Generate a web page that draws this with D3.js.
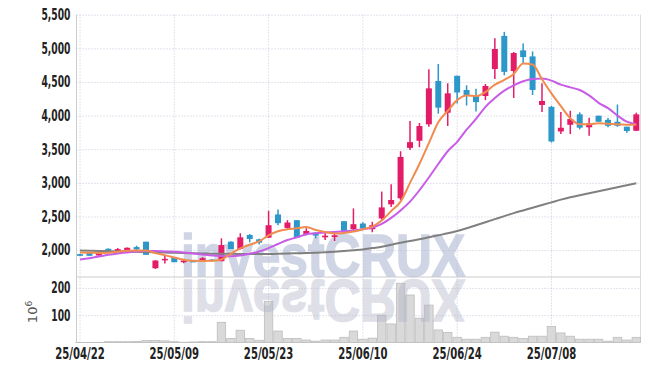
<!DOCTYPE html>
<html>
<head>
<meta charset="utf-8">
<script src="https://cdnjs.cloudflare.com/ajax/libs/d3/7.8.5/d3.min.js"></script>
<style>
body { margin: 0; background: #fff; }
.tick text { font-family: 'DejaVu Sans', sans-serif; font-stretch: condensed; font-weight: bold; fill: #222; }
</style>
</head>
<body>
<div id="chart"></div>
<script>
// trading days (yy/mm/dd)
var dates = ["25/04/22","25/04/23","25/04/24","25/04/25","25/04/28","25/04/29","25/04/30","25/05/02","25/05/07","25/05/08",
	"25/05/09","25/05/12","25/05/13","25/05/14","25/05/15","25/05/16","25/05/19","25/05/20","25/05/21","25/05/22",
	"25/05/23","25/05/26","25/05/27","25/05/28","25/05/29","25/05/30","25/06/02","25/06/04","25/06/05","25/06/09",
	"25/06/10","25/06/11","25/06/12","25/06/13","25/06/16","25/06/17","25/06/18","25/06/19","25/06/20","25/06/23",
	"25/06/24","25/06/25","25/06/26","25/06/27","25/06/30","25/07/01","25/07/02","25/07/03","25/07/04","25/07/07",
	"25/07/08","25/07/09","25/07/10","25/07/11","25/07/14","25/07/15","25/07/16","25/07/17","25/07/18","25/07/21"];

var opens = [1940,1955,1920,2020,1975,1990,2045,2125,1730,1850,
	1885,1820,1840,1835,1860,1835,2125,2015,2225,2160,
	2185,2530,2330,2445,2240,2260,2190,2195,2430,2310,
	2395,2310,2470,2680,2770,3520,3625,3870,4515,4043,
	4592,4380,4300,4291,4692,5185,4662,4970,4880,4158,
	4130,3764,3863,4019,3826,3998,3937,3908,3835,3774];
var highs = [1945,1960,1960,2025,2030,2040,2065,2125,1850,1925,
	1885,1850,1845,1895,1865,2175,2130,2250,2240,2170,
	2585,2605,2445,2445,2325,2265,2260,2250,2430,2620,
	2415,2420,2870,2980,3470,3920,3890,4690,4767,4480,
	4592,4450,4400,4470,5148,5245,4945,5073,4954,4480,
	4145,4054,4071,4049,3968,3998,3963,4165,3835,4043];
var lows = [1910,1910,1915,1970,1970,1985,2005,1930,1720,1800,
	1820,1805,1825,1830,1830,1835,2015,2010,2115,2085,
	2180,2370,2300,2185,2220,2175,2150,2135,2250,2300,
	2305,2265,2435,2640,2745,3490,3530,3835,4028,3845,
	4180,4150,4060,4230,4543,4600,4262,4775,4307,4054,
	3600,3726,3725,3795,3700,3908,3826,3833,3745,3774];
var closes = [1915,1915,1955,1975,2015,2035,2010,1930,1845,1870,
	1820,1845,1830,1880,1835,2075,2015,2190,2165,2110,
	2370,2400,2410,2185,2285,2215,2215,2220,2265,2385,
	2320,2370,2635,2745,3385,3605,3845,4405,4118,4331,
	4344,4300,4200,4440,4990,4650,4930,4870,4381,4217,
	3615,3819,3948,3820,3885,3908,3848,3848,3770,4018];

// volume, millions of shares
var volumes = [0.5,0.5,0.5,3,3,3,4,7,7,6,
	3,1,2,3,3,74,15,45,15,8,
	151,42,15,15,9,5,9,9,19,42,
	12,16,100,68,217,174,89,137,46,37,
	19,12,12,19,38,23,19,15,23,23,
	59,35,23,12,12,12,5,19,9,19];

// moving averages
var ma5 = [1965,1962,1958,1962,1975,1990,1995,1995,1955,1925,
	1890,1855,1840,1838,1840,1860,1945,2025,2080,2130,
	2220,2280,2310,2325,2345,2300,2270,2245,2255,2275,
	2310,2350,2440,2580,2720,3000,3280,3590,3900,4070,
	4230,4300,4290,4350,4460,4530,4620,4775,4760,4540,
	4330,4140,3960,3870,3870,3885,3880,3870,3865,3863];
var ma10 = [1860,1880,1905,1930,1950,1965,1978,1985,1985,1980,
	1975,1965,1950,1935,1920,1912,1910,1920,1945,1980,
	2030,2090,2150,2190,2235,2250,2260,2270,2280,2290,
	2310,2335,2390,2480,2590,2720,2890,3080,3280,3470,
	3610,3790,3950,4130,4260,4370,4450,4510,4545,4550,
	4520,4460,4420,4380,4300,4190,4110,4000,3910,3870];
var ma60 = [1995,1990,1987,1984,1981,1978,1975,1971,1967,1963,
	1959,1956,1953,1950,1947,1945,1944,1943,1942,1942,
	1943,1945,1948,1952,1956,1961,1967,1975,1985,1997,
	2010,2030,2050,2080,2110,2135,2160,2190,2220,2250,
	2285,2325,2370,2415,2460,2505,2550,2590,2630,2670,
	2710,2750,2785,2815,2845,2875,2905,2935,2965,2995];

var priceTicks = [2000,2500,3000,3500,4000,4500,5000,5500];
var volumeTicks = [100,200];
var dateTicks = ["25/04/22","25/05/09","25/05/23","25/06/10","25/06/24","25/07/08"];

var upColor = '#e31c68',
	downColor = '#2e97c9';

var width = 650,
	height = 371;

var left = 76.5, right = 640.5,
	priceTop = 14.7, priceBottom = 277,
	volBottom = 342.5;

var svg = d3.select("#chart")
	.append("svg")
	.attr("width", width)
	.attr("height", height);

var x = d3.scaleBand()
	.domain(dates)
	.range([75.3, 641])
	.paddingInner(0);
var bw = x.bandwidth();
function cx(d){ return x(d) + bw / 2; }

var y = d3.scaleLinear().domain([1600, 5500]).range([priceBottom, priceTop]);
var yv = d3.scaleLinear().domain([0, 240]).range([volBottom, priceBottom]);

// grid + axes
var gridColor = "#c3c8da";

var yAxis = svg.append("g")
	.attr("transform", "translate(" + left + ",0)")
	.call(d3.axisLeft(y).tickValues(priceTicks).tickFormat(d3.format(",")).tickSize(-(right - left)).tickPadding(6));
var vAxis = svg.append("g")
	.attr("transform", "translate(" + left + ",0)")
	.call(d3.axisLeft(yv).tickValues(volumeTicks).tickSize(-(right - left)).tickPadding(6));
var xAxis = svg.append("g")
	.attr("transform", "translate(0," + volBottom + ")")
	.call(d3.axisBottom(x).tickValues(dateTicks).tickSize(-(volBottom - priceTop)).tickPadding(5));

[yAxis, vAxis, xAxis].forEach(function(a){
	a.select(".domain").remove();
	a.selectAll(".tick line")
		.attr("stroke", gridColor)
		.attr("stroke-dasharray", "1,2");
});

// squeeze labels to the narrow face used in the original
function narrow(sel, size, factor){
	sel.selectAll(".tick text")
		.style("font-size", size + "px")
		.each(function(){
			var w = this.getComputedTextLength();
			d3.select(this).attr("textLength", w * factor).attr("lengthAdjust", "spacingAndGlyphs");
		});
}
narrow(yAxis, 15, 0.68);
narrow(vAxis, 15, 0.68);
narrow(xAxis, 16, 0.7);

// frame
var frameColor = "#cccccc";
svg.append("line").attr("x1", left).attr("x2", left).attr("y1", priceTop).attr("y2", volBottom).attr("stroke", frameColor);
svg.append("line").attr("x1", right).attr("x2", right).attr("y1", priceTop).attr("y2", volBottom).attr("stroke", "#dddddd");
svg.append("line").attr("x1", left).attr("x2", right).attr("y1", priceBottom).attr("y2", priceBottom).attr("stroke", frameColor);
svg.append("line").attr("x1", left).attr("x2", right).attr("y1", volBottom).attr("stroke", frameColor).attr("y2", volBottom);

// volume bars
svg.append("g").selectAll("rect")
	.data(dates)
	.enter()
	.append("rect")
	.attr("x", function(d){ return x(d) + 0.5; })
	.attr("width", bw - 1)
	.attr("y", function(d, i){ return yv(volumes[i]); })
	.attr("height", function(d, i){ return volBottom - yv(volumes[i]); })
	.attr("fill", "#d9d9d9")
	.attr("stroke", "#bdbdbd")
	.attr("stroke-width", 0.8);

// watermark + reflection
var wm = svg.append("g");
wm.append("text")
	.attr("x", 181).attr("y", 275.5)
	.attr("textLength", 284).attr("lengthAdjust", "spacingAndGlyphs")
	.style("font-family", "'Liberation Sans', Arial, sans-serif")
	.style("font-weight", "bold")
	.style("font-size", "60px")
	.attr("fill", "#a9b4d0")
	.attr("stroke", "#a9b4d0")
	.attr("stroke-width", 1.6)
	.attr("opacity", 0.55)
	.text("investCRUX");
wm.append("text")
	.attr("transform", "translate(0,555) scale(1,-1)")
	.attr("x", 181).attr("y", 275.5)
	.attr("textLength", 284).attr("lengthAdjust", "spacingAndGlyphs")
	.style("font-family", "'Liberation Sans', Arial, sans-serif")
	.style("font-weight", "bold")
	.style("font-size", "60px")
	.attr("fill", "#b0b0c8")
	.attr("stroke", "#b0b0c8")
	.attr("stroke-width", 1.6)
	.attr("opacity", 0.4)
	.text("investCRUX");

// candles
var candle = svg.append("g").selectAll("g")
	.data(dates)
	.enter()
	.append("g");

candle.append("line")
	.attr("x1", cx).attr("x2", cx)
	.attr("y1", function(d, i){ return y(highs[i]); })
	.attr("y2", function(d, i){ return y(lows[i]); })
	.attr("stroke", function(d, i){ return closes[i] >= opens[i] ? upColor : downColor; })
	.attr("stroke-width", 1.5);

candle.append("rect")
	.attr("x", function(d){ return cx(d) - 3; })
	.attr("width", 6)
	.attr("y", function(d, i){ return y(Math.max(opens[i], closes[i])); })
	.attr("height", function(d, i){ return Math.max(1.5, Math.abs(y(opens[i]) - y(closes[i]))); })
	.attr("fill", function(d, i){ return closes[i] >= opens[i] ? upColor : downColor; });

// moving average lines
function maLine(values){
	return d3.line()
		.x(function(d, i){ return cx(dates[i]); })
		.y(function(d){ return y(d); })
		.curve(d3.curveMonotoneX)(values);
}
svg.append("path").attr("d", maLine(ma60)).attr("fill", "none").attr("stroke", "#808080").attr("stroke-width", 2);
svg.append("path").attr("d", maLine(ma10)).attr("fill", "none").attr("stroke", "#c85ce6").attr("stroke-width", 2);
svg.append("path").attr("d", maLine(ma5)).attr("fill", "none").attr("stroke", "#f08c50").attr("stroke-width", 2);

// volume unit
var unit = svg.append("text")
	.attr("transform", "translate(37,312) rotate(-90)")
	.attr("text-anchor", "middle")
	.style("font-family", "'DejaVu Sans', sans-serif")
	.style("font-size", "13px")
	.attr("fill", "#555");
unit.append("tspan").text("10");
unit.append("tspan").attr("dy", -5).style("font-size", "9px").text("6");
</script>
</body>
</html>
